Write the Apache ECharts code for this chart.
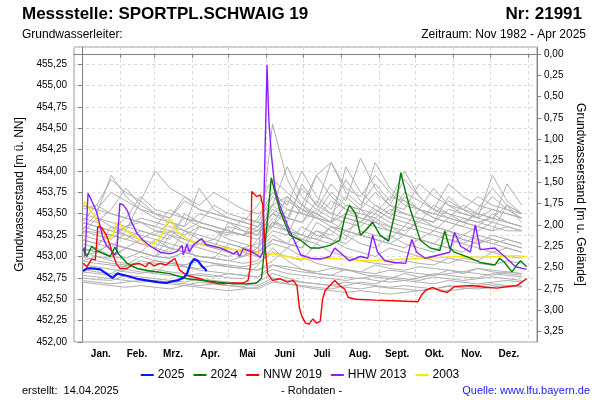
<!DOCTYPE html>
<html><head><meta charset="utf-8">
<script src="https://cdn.jsdelivr.net/npm/echarts@6/dist/echarts.min.js"></script>
<style>html,body{margin:0;padding:0;background:#fff}#c{width:600px;height:400px}</style>
</head><body><div id="c"></div>
<script>
// ---------- data ----------
const monthNames = ['Jan.','Feb.','Mrz.','Apr.','Mai','Juni','Juli','Aug.','Sept.','Okt.','Nov.','Dez.'];
const monthStarts = [0,31,59,90,120,151,181,212,243,273,304,334,365];
const monthMids = [15.5,45,74.5,105,135.5,166,196.5,227.5,258,288.5,319,349.5];
const depthTicks = [0,0.25,0.5,0.75,1,1.25,1.5,1.75,2,2.25,2.5,2.75,3,3.25];
const groundLevel = 455.37;

const blueDays = [1,4,8,15,20,25,29,35,45,53,62,69,74,78,83,86,89,92,95,98,101,102];
const blueVals = [452.83,452.86,452.86,452.85,452.80,452.75,452.80,452.78,452.74,452.72,452.70,452.69,452.71,452.72,452.75,452.80,452.92,452.97,452.95,452.89,452.85,452.83];

const greenDays = [1,4,8,12,17,23,27,30,37,45,56,72,86,105,124,135,143,147,151,155,158,162,170,179,187,195,203,211,215,219,224,228,232,238,244,251,256,261,265,269,273,277,285,293,297,301,305,318,326,338,342,346,352,356,359,364];
const greenVals = [453.09,453.00,453.12,453.07,453.04,453.00,453.11,453.03,452.92,452.86,452.83,452.80,452.74,452.71,452.68,452.68,452.69,452.75,453.30,453.92,453.75,453.54,453.25,453.19,453.10,453.10,453.13,453.19,453.45,453.60,453.50,453.25,453.30,453.40,453.25,453.18,453.50,453.98,453.75,453.54,453.37,453.19,453.10,453.07,453.30,453.10,453.05,452.98,452.93,452.90,452.98,452.93,452.82,452.90,452.95,452.88];

const redDays = [1,4,8,11,13,16,20,23,26,28,31,37,42,47,52,55,59,64,69,76,80,86,91,97,102,113,124,132,136,138,139,143,146,148,150,152,156,162,168,173,176,178,180,183,186,189,192,195,197,199,203,207,211,215,218,224,240,260,275,278,281,287,293,299,305,320,330,340,350,356,360,364];
const redVals = [452.92,452.88,452.97,452.96,453.35,453.34,453.25,453.13,453.00,452.92,452.86,452.86,452.91,452.92,452.88,452.93,452.89,452.92,452.90,452.98,452.84,452.78,452.76,452.74,452.71,452.68,452.69,452.69,452.72,452.90,453.76,453.70,453.72,453.60,453.10,452.80,452.72,452.74,452.70,452.72,452.66,452.40,452.30,452.22,452.21,452.27,452.22,452.24,452.50,452.60,452.66,452.72,452.66,452.62,452.52,452.50,452.49,452.48,452.47,452.55,452.60,452.64,452.60,452.58,452.65,452.66,452.64,452.63,452.65,452.66,452.70,452.74];

const purpleDays = [2,2.5,5,6.5,9,12,15,17,20,24,27,28.5,31,34,37,41,45,50,56,64,72,78,82,83,86,88,91,98,101.5,107.5,113,118.5,124,127,129,132,140,146,148,150,151.5,153,155,158,162,166,170,174,179,187,195,203,207,211,219,228,234,238,242,248,256,265,270,274,281,293,301,305,310,318,322,326,338,346,355,364];
const purpleVals = [453.11,453.00,453.74,453.76,453.62,453.52,453.35,453.23,453.13,453.07,453.02,453.06,453.62,453.60,453.54,453.39,453.27,453.19,453.12,453.05,453.03,453.06,453.13,453.02,453.14,453.05,453.13,453.21,453.14,453.12,453.10,453.07,453.03,453.06,453.00,453.09,453.05,452.99,453.05,454.30,455.24,454.60,454.20,453.80,453.60,453.45,453.30,453.18,453.02,452.98,452.97,453.00,453.10,453.05,452.95,453.00,452.98,453.25,453.05,452.95,452.93,452.92,453.20,453.05,452.98,453.02,453.05,453.28,453.12,453.05,453.37,453.08,453.10,453.00,452.88,452.85];

const yellowDays = [1,2.5,5,9,12,16,20,23,26,28,30,32.5,37,45,53,56,60,64,68,70.5,73.5,76,80,86,91,105,118.5,132,146,160,175,190,205,220,235,250,265,280,295,310,325,340,355,364];
const yellowVals = [453.60,453.64,453.58,453.50,453.43,453.31,453.23,453.21,453.27,453.39,453.40,453.35,453.29,453.22,453.14,453.12,453.17,453.22,453.31,453.44,453.42,453.33,453.27,453.21,453.17,453.13,453.09,453.07,453.04,453.02,452.98,452.97,452.98,452.96,452.95,452.96,452.97,452.98,452.99,453.00,452.99,453.00,453.01,453.00];

const greyDays = [0,12,24,36,48,60,72,84,96,108,120,132,144,156,168,180,192,204,216,228,240,252,264,276,288,300,312,324,336,348,360];
const greyYears = [
 [453.45,453.40,453.55,453.80,453.60,453.50,453.45,453.70,453.55,453.50,453.45,453.40,453.60,453.90,453.75,453.60,453.95,454.10,453.80,453.70,453.95,453.75,453.60,453.55,453.50,453.65,453.55,453.50,453.70,453.55,453.45],
 [453.20,453.15,453.10,453.30,453.25,453.20,453.15,453.10,453.35,453.30,453.20,453.15,453.10,453.40,453.35,453.25,453.50,453.40,453.30,453.25,453.45,453.35,453.25,453.20,453.15,453.30,453.20,453.15,453.25,453.20,453.15],
 [452.72,452.70,452.68,452.70,452.72,452.70,452.68,452.66,452.70,452.68,452.66,452.65,452.70,452.80,452.75,452.70,452.68,452.66,452.64,452.62,452.65,452.63,452.62,452.60,452.62,452.65,452.63,452.62,452.64,452.66,452.65],
 [452.85,452.82,452.80,452.90,452.85,452.80,452.78,452.76,452.80,452.78,452.75,452.74,452.90,453.10,452.95,452.85,452.80,452.78,452.85,452.80,452.76,452.74,452.72,452.75,452.80,452.78,452.76,452.75,452.80,452.78,452.76],
 [453.55,453.60,453.90,453.75,453.65,454.00,453.80,453.70,453.60,453.75,453.65,453.55,453.50,453.60,453.70,453.55,453.45,453.40,453.50,453.45,453.40,453.35,453.30,453.40,453.35,453.30,453.45,453.40,453.35,453.30,453.30],
 [453.05,453.00,452.98,453.10,453.05,453.20,453.10,453.05,453.00,452.98,453.15,453.10,453.05,453.25,453.15,453.10,453.30,453.20,453.10,453.05,453.00,453.10,453.05,453.00,452.95,452.92,452.98,452.95,453.05,453.00,452.98],
 [453.30,453.25,453.20,453.35,453.30,453.25,453.40,453.30,453.25,453.20,453.35,453.30,453.25,453.60,454.05,453.70,453.55,453.85,453.65,454.15,453.80,453.60,453.90,453.70,453.55,453.45,453.40,453.50,453.45,453.40,453.35],
 [452.95,452.92,452.90,452.88,452.95,452.92,452.90,452.88,452.86,452.90,452.88,452.86,452.84,452.95,453.10,453.00,452.92,452.88,452.85,452.82,452.80,452.84,452.82,452.80,452.78,452.80,452.82,452.80,452.78,452.82,452.80],
 [453.10,453.05,453.15,453.10,453.05,453.00,453.10,453.05,453.20,453.15,453.10,453.05,453.00,454.55,453.90,453.60,453.45,453.35,453.30,453.40,453.35,453.30,453.25,453.20,453.30,453.25,453.20,453.15,453.20,453.15,453.10],
 [453.40,453.35,453.30,453.45,453.40,453.35,453.30,453.25,453.35,453.30,453.25,453.45,453.40,453.35,453.55,453.50,453.45,453.40,453.60,453.55,453.50,453.70,453.65,453.55,453.80,453.60,453.50,453.45,453.55,453.50,453.45],
 [452.78,452.76,452.74,452.72,452.70,452.72,452.70,452.68,452.66,452.68,452.66,452.64,452.62,452.70,452.68,452.65,452.62,452.60,452.58,452.60,452.58,452.56,452.58,452.60,452.62,452.60,452.62,452.64,452.66,452.64,452.66],
 [453.25,453.45,453.35,453.30,453.65,453.50,453.40,453.35,453.80,453.55,453.45,453.40,453.35,453.50,453.45,453.40,453.65,453.50,453.45,453.40,453.55,453.45,453.40,453.35,453.30,453.45,453.40,453.35,453.50,453.40,453.35],
 [453.00,452.95,452.92,452.90,453.00,452.95,452.92,452.90,452.95,452.92,452.90,452.88,452.92,453.05,453.00,452.95,453.15,453.05,453.00,452.95,452.92,452.90,452.95,452.92,452.90,452.98,452.95,452.92,452.90,452.95,452.92],
 [453.35,453.30,453.25,453.20,453.30,453.25,453.20,453.50,453.40,453.35,453.30,453.25,453.45,453.75,453.60,454.00,453.70,453.55,453.90,453.65,453.55,453.45,453.70,453.55,453.45,453.40,453.35,453.55,453.80,453.60,453.50],
 [452.90,452.88,452.85,452.82,452.80,452.85,452.82,452.80,452.78,452.76,452.80,452.78,452.76,452.85,452.80,452.78,452.76,452.74,452.72,452.75,452.72,452.70,452.72,452.70,452.68,452.72,452.70,452.68,452.70,452.72,452.70],
 [453.15,453.10,453.35,453.25,453.15,453.10,453.05,453.30,453.20,453.10,453.05,453.00,453.20,453.45,453.30,453.20,453.15,453.35,453.25,453.15,453.10,453.25,453.15,453.10,453.05,453.20,453.15,453.10,453.05,453.10,453.05],
 [453.50,453.45,453.40,453.35,453.45,453.40,453.35,453.30,453.40,453.35,453.30,453.25,453.30,453.55,453.45,453.80,453.60,454.10,453.75,453.60,453.85,453.65,454.00,453.70,453.55,453.50,453.45,453.40,453.45,453.60,453.50],
 [452.70,452.68,452.66,452.64,452.66,452.64,452.62,452.66,452.64,452.62,452.60,452.62,452.64,452.72,452.68,452.66,452.64,452.62,452.66,452.70,452.68,452.74,452.80,452.76,452.78,452.84,452.80,452.86,452.82,452.80,452.78],
 [453.60,453.55,453.50,453.45,453.70,453.55,453.50,453.45,453.40,453.35,453.30,453.25,453.20,453.40,453.30,453.25,453.20,453.15,453.30,453.25,453.20,453.15,453.10,453.20,453.15,453.10,453.05,453.20,453.15,453.10,453.05],
 [453.05,453.10,453.00,452.98,453.05,453.00,453.25,453.15,453.10,453.05,453.00,453.10,453.05,453.20,453.15,453.35,453.25,453.20,453.15,453.30,453.25,453.20,453.35,453.30,453.25,453.20,453.15,453.25,453.20,453.15,453.10],
 [453.40,453.60,453.50,453.45,453.40,453.35,453.55,453.45,453.40,453.60,453.50,453.45,453.40,453.70,453.55,453.50,453.45,453.65,453.55,453.50,453.45,453.60,453.50,453.45,453.40,453.70,453.55,453.45,453.95,453.65,453.50],
 [453.25,453.20,453.15,453.10,453.20,453.15,453.10,453.05,453.15,453.10,453.05,453.00,453.10,453.30,453.25,453.60,453.50,453.40,454.05,453.75,453.60,453.50,453.45,453.40,453.60,453.50,453.40,453.35,453.30,453.35,453.30],
 [452.82,452.80,452.78,452.85,452.82,452.80,452.95,452.88,452.84,452.82,452.80,452.78,452.76,452.90,452.85,452.82,452.80,452.78,452.76,452.74,452.78,452.76,452.74,452.72,452.76,452.74,452.72,452.74,452.76,452.74,452.72],
 [453.30,453.50,453.95,453.70,453.55,453.45,453.40,453.35,453.50,453.45,453.40,453.35,453.30,453.35,453.30,453.25,453.20,453.35,453.30,453.25,453.20,453.15,453.25,453.20,453.15,453.10,453.25,453.20,453.15,453.20,453.15],
 [452.75,452.73,452.72,452.78,452.76,452.74,452.72,452.70,452.74,452.72,452.70,452.68,452.66,452.75,452.72,452.70,452.68,452.66,452.70,452.68,452.66,452.64,452.66,452.64,452.62,452.66,452.64,452.66,452.68,452.66,452.64],
 [453.30,453.28,453.25,453.35,453.40,453.30,453.28,453.45,453.35,453.30,453.28,453.25,453.35,453.60,453.45,453.40,453.55,453.45,453.40,453.35,453.50,453.40,453.35,453.55,453.45,453.40,453.35,453.30,453.40,453.35,453.30],
 [453.10,453.05,453.00,453.10,453.05,453.00,452.98,453.05,453.00,452.98,452.95,453.00,453.05,453.15,453.10,453.20,453.30,453.25,453.45,453.40,453.60,453.50,453.75,453.65,453.55,453.85,453.70,453.60,453.55,453.50,453.45],
 [452.95,453.00,452.95,452.92,452.90,452.95,452.92,452.90,452.95,452.92,452.88,452.86,452.84,452.90,452.88,452.85,452.82,452.86,452.84,452.82,452.90,452.86,452.84,452.88,452.86,452.84,452.82,452.86,452.84,452.82,452.80],
 [453.20,453.15,453.25,453.20,453.15,453.10,453.30,453.20,453.15,453.10,453.40,453.30,453.25,453.50,453.40,453.85,453.60,453.50,453.70,453.55,454.10,453.80,453.65,453.55,453.50,453.45,453.60,453.50,453.45,453.40,453.35],
 [453.40,453.35,453.30,453.25,453.20,453.30,453.25,453.20,453.15,453.20,453.15,453.10,453.15,453.35,453.70,453.50,453.95,453.70,453.55,453.45,453.40,453.55,453.50,453.45,453.40,453.55,453.50,453.45,453.40,453.85,453.60],
 [453.00,453.05,453.15,453.10,453.05,453.00,452.98,453.05,453.00,452.98,452.95,452.92,452.95,453.20,453.15,453.10,453.40,453.30,453.20,453.55,453.40,453.30,453.25,453.45,453.35,453.30,453.25,453.35,453.30,453.60,453.40],
 [453.60,453.55,453.75,453.65,453.55,453.50,453.45,453.65,453.55,453.50,453.45,453.40,453.35,453.50,453.65,453.55,453.50,453.75,453.60,453.55,453.75,453.60,453.55,453.85,453.70,453.60,453.55,453.70,453.60,453.55,453.50]
];

// ---------- chart ----------
const pairs = (d, v) => v.map((y, i) => [d[i], y]).filter(p => p[0] !== undefined);
const FONT = '"Liberation Sans", Arial, sans-serif';
const comma = v => v.toFixed(2).replace('.', ',');

const series = [];
greyYears.forEach((vals, k) => series.push({
  name: 'grey' + k, type: 'line', data: pairs(greyDays, vals), symbol: 'none',
  lineStyle: { color: '#b0b0b0', width: 1 }, z: 1, silent: true
}));
const coloured = [
  ['2003', yellowDays, yellowVals, '#ffe600', 1.4],
  ['HHW 2013', purpleDays, purpleVals, '#8f1eff', 1.4],
  ['NNW 2019', redDays, redVals, '#ff0000', 1.4],
  ['2024', greenDays, greenVals, '#007d00', 1.4],
  ['2025', blueDays, blueVals, '#0a14ff', 2.2]
];
coloured.forEach(([n, d, v, c, w], i) => series.push({
  name: n, type: 'line', data: pairs(d, v), symbol: 'none', color: c,
  lineStyle: { color: c, width: w }, z: 3 + i
}));

const chart = echarts.init(document.getElementById('c'), null, { renderer: 'canvas' });
chart.setOption({
  animation: false,
  backgroundColor: '#fff',
  textStyle: { fontFamily: FONT },
  grid: { left: 74, right: 63, top: 47, bottom: 58, show: true, borderColor: '#999', borderWidth: 1 },
  xAxis: {
    type: 'value', min: -6.5, max: 372.5,
    axisLine: { show: true, lineStyle: { color: '#808080' } },
    axisTick: { show: true, customValues: monthStarts, length: 4, lineStyle: { color: '#808080' } },
    axisLabel: {
      customValues: monthMids, color: '#000', fontSize: 10, fontWeight: 'bold', fontFamily: FONT, margin: 7,
      formatter: v => monthNames[monthMids.indexOf(v)] || ''
    },
    splitLine: { show: true, lineStyle: { color: '#d8d8d8', type: [3, 3] } }
  },
  yAxis: [{
    type: 'value', min: 452, max: 455.45, interval: 0.25,
    name: 'Grundwasserstand [m ü. NN]', nameLocation: 'middle', nameGap: 42,
    nameTextStyle: { fontSize: 12, color: '#000', fontFamily: FONT },
    axisLine: { show: true, lineStyle: { color: '#808080' } },
    axisTick: { show: true, length: 4, lineStyle: { color: '#808080' } },
    axisLabel: { color: '#000', fontSize: 10, fontFamily: FONT, margin: 7, showMaxLabel: false, formatter: comma },
    splitLine: { show: true, lineStyle: { color: '#d8d8d8', type: [3, 3] } }
  }, {
    type: 'value', position: 'right', inverse: true, min: groundLevel - 455.45, max: groundLevel - 452,
    name: 'Grundwasserstand [m u. Gelände]', nameLocation: 'middle', nameGap: 33, nameRotate: -90,
    nameTextStyle: { fontSize: 12, color: '#000', fontFamily: FONT },
    axisLine: { show: true, lineStyle: { color: '#808080' } },
    axisTick: { show: true, customValues: depthTicks, length: 4, lineStyle: { color: '#808080' } },
    axisLabel: { customValues: depthTicks, color: '#000', fontSize: 10, fontFamily: FONT, margin: 7, formatter: comma },
    splitLine: { show: false }
  }],
  legend: {
    data: ['2025', '2024', 'NNW 2019', 'HHW 2013', '2003'],
    bottom: 14, left: 'center', icon: 'rect', itemWidth: 13, itemHeight: 2, itemGap: 9,
    textStyle: { fontSize: 12, color: '#000', fontFamily: FONT, padding: [0, 0, 0, -1] }
  },
  graphic: [
    { type: 'text', left: 22, top: 6, style: { text: 'Messstelle: SPORTPL.SCHWAIG 19', font: 'bold 17px ' + FONT, fill: '#000' } },
    { type: 'text', right: 18, top: 6, style: { text: 'Nr: 21991', font: 'bold 17px ' + FONT, fill: '#000' } },
    { type: 'text', left: 22, top: 29, style: { text: 'Grundwasserleiter:', font: '12px ' + FONT, fill: '#000' } },
    { type: 'text', right: 14, top: 29, style: { text: 'Zeitraum: Nov 1982 - Apr 2025', font: '12px ' + FONT, fill: '#000' } },
    { type: 'text', left: 22, top: 385, style: { text: 'erstellt:  14.04.2025', font: '11px ' + FONT, fill: '#000' } },
    { type: 'text', left: 281, top: 385, style: { text: '- Rohdaten -', font: '11px ' + FONT, fill: '#000' } },
    { type: 'text', right: 10, top: 385, style: { text: 'Quelle: www.lfu.bayern.de', font: '11px ' + FONT, fill: '#1a1aff' } }
  ],
  series: series
});
</script></body></html>
